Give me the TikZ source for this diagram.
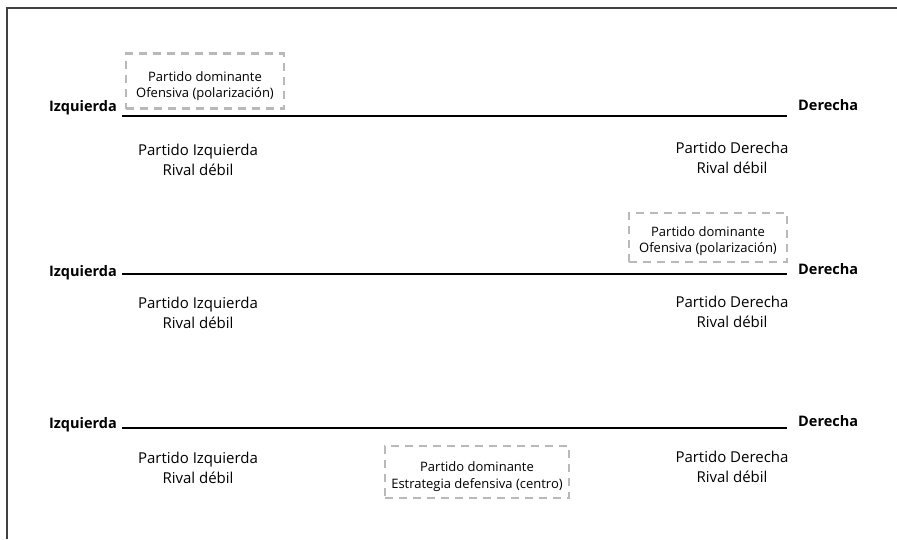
\documentclass[tikz,border=0pt]{standalone}
\usepackage{fontspec}
\setmainfont{Open Sans}
\begin{document}
\begin{tikzpicture}[x=1pt,y=-1pt,
  axis/.style={line width=1.4pt,black},
  side/.style={font=\bfseries\fontsize{14.5}{17}\selectfont,inner sep=0pt},
  party/.style={font=\fontsize{15}{20}\selectfont,align=center,inner sep=0pt},
  domtext/.style={font=\fontsize{13}{16.3}\selectfont,align=center,inner sep=0pt},
  dombox/.style={draw={rgb,255:red,185;green,185;blue,185},line width=2.2pt,dash pattern=on 8pt off 6pt,inner sep=0pt},
  frame/.style={line width=2pt,draw={rgb,255:red,64;green,64;blue,64}}]
\useasboundingbox (0,0) rectangle (897,539);
\draw[frame] (7.3,539) -- (7.3,8.3) -- (897,8.3);
% row 1
\node[side,anchor=base east] (l1) at (117,111.5) {Izquierda};
\node[side,anchor=base west] (r1) at (798,110.7) {Derecha};
\coordinate (a1) at (122,116);
\coordinate (b1) at (787,116);
\draw[axis] (a1) -- (b1);
\node[party] (pl1) at (198,160) {Partido Izquierda\\Rival débil};
\node[party] (pr1) at (732,158.3) {Partido Derecha\\Rival débil};
\node[dombox,minimum width=158pt,minimum height=55pt] (d1box) at (205,81) {};
\node[domtext] (d1) at (205,85.8) {Partido dominante\\Ofensiva (polarización)};
% row 2
\node[side,anchor=base east] (l2) at (117,276.5) {Izquierda};
\node[side,anchor=base west] (r2) at (798,274.5) {Derecha};
\coordinate (a2) at (122,274);
\coordinate (b2) at (787,274);
\draw[axis] (a2) -- (b2);
\node[party] (pl2) at (198,313.3) {Partido Izquierda\\Rival débil};
\node[party] (pr2) at (732,311.5) {Partido Derecha\\Rival débil};
\node[dombox,minimum width=158pt,minimum height=49pt] (d2box) at (708,237.2) {};
\node[domtext] (d2) at (708,241.3) {Partido dominante\\Ofensiva (polarización)};
% row 3
\node[side,anchor=base east] (l3) at (117,428) {Izquierda};
\node[side,anchor=base west] (r3) at (798,426) {Derecha};
\coordinate (a3) at (122,428);
\coordinate (b3) at (787,428);
\draw[axis] (a3) -- (b3);
\node[party] (pl3) at (198,468) {Partido Izquierda\\Rival débil};
\node[party] (pr3) at (732,466.6) {Partido Derecha\\Rival débil};
\node[dombox,minimum width=184pt,minimum height=52pt] (d3box) at (477,472) {};
\node[domtext] (d3) at (477,476.5) {Partido dominante\\Estrategia defensiva (centro)};
\end{tikzpicture}
\end{document}
